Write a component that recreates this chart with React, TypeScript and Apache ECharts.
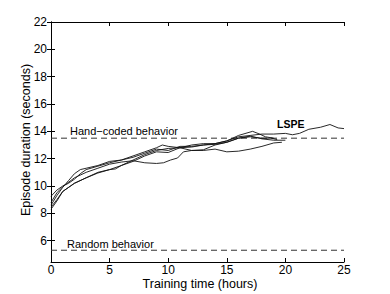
import React, { useEffect, useRef } from "react";
import * as echarts from "echarts";

const xTicks = [0, 5, 10, 15, 20, 25];
const yTicks = [6, 8, 10, 12, 14, 16, 18, 20, 22];
const handCoded = 13.5;
const randomBehavior = 5.3;

const runA: [number, number][] = [
  [0, 9.25], [0.5, 9.7], [1, 10.0], [1.5, 10.2], [2, 10.5], [2.5, 10.9], [3, 11.2], [4, 11.45], [5, 11.7],
  [6, 11.9], [7, 12.2], [8, 12.5], [9, 12.8], [9.5, 13.0], [10, 12.9], [11, 12.8], [12, 13.0],
  [13, 13.1], [14, 13.1], [15, 13.3], [16, 13.6], [17, 13.7], [18, 13.8], [19, 13.8],
  [20, 13.85], [20.6, 13.75], [21.2, 13.85], [22, 14.15], [23, 14.3], [23.8, 14.5], [24.5, 14.25], [25, 14.2],
];
const runB: [number, number][] = [
  [0, 8.6], [0.5, 9.3], [1, 9.9], [1.5, 10.4], [2, 10.9], [2.5, 11.2], [3, 11.3], [4, 11.5], [5, 11.8],
  [6, 11.9], [7, 12.1], [8, 12.4], [9, 12.7], [10, 12.6], [11, 12.9], [12, 12.9], [13, 13.0],
  [14, 13.1], [15, 13.3], [16, 13.7], [17.2, 14.0], [17.8, 13.8], [18.3, 13.6], [19, 13.5],
];
const runC: [number, number][] = [
  [0, 8.45], [0.5, 9.0], [1, 9.6], [1.5, 9.9], [2, 10.2], [3, 10.6], [4, 11.0], [5, 11.2], [6, 11.5],
  [7, 11.9], [8, 12.3], [9, 12.6], [10, 12.75], [11, 12.8], [12, 12.85], [13, 13.0], [14, 13.05],
  [15, 13.2], [16, 13.5], [17, 13.6], [18, 13.5], [18.8, 13.5], [19.3, 13.4],
];
const runD: [number, number][] = [
  [0, 8.3], [0.5, 8.9], [1, 9.6], [1.5, 9.9], [2, 10.2], [3, 10.6], [4, 10.95], [5, 11.2], [5.5, 11.25], [6, 11.5],
  [7, 11.8], [8, 12.2], [9, 12.5], [10, 12.45], [11, 12.8], [12, 12.6], [13, 12.65],
  [14, 13.0], [15, 13.2], [16, 13.5], [17, 13.65], [18, 13.45], [19, 13.35], [20, 13.35],
];
const runE: [number, number][] = [
  [0, 8.8], [0.5, 9.5], [1, 9.95], [2, 10.6], [3, 11.0], [4, 11.3], [5, 11.6], [6, 11.75],
  [7, 11.85], [8, 11.7], [9, 11.65], [9.6, 11.7], [10.2, 11.9], [10.8, 12.05], [11.3, 12.5],
  [12, 12.6], [13, 12.6], [14, 12.7], [15, 12.5], [16, 12.55], [17, 12.7], [18, 12.9],
  [19, 13.15], [19.7, 13.2],
];
const runs = [runA, runB, runC, runD, runE];

const FONT = "'Liberation Sans', Arial, Helvetica, sans-serif";

export default function App() {
  const ref = useRef<HTMLDivElement>(null);
  useEffect(() => {
    const chart = echarts.init(ref.current!, null, { renderer: "svg" });
    const axisLine = { show: true, lineStyle: { color: "#000", width: 1 } };
    const tickStyle = { show: true, inside: true, length: 4, lineStyle: { color: "#000", width: 1 } };
    const dashed = (v: number) => ({
      type: "line",
      data: [[0, v], [25, v]],
      symbol: "none",
      lineStyle: { color: "#333", width: 1, type: [6, 4] },
      silent: true,
    });
    chart.setOption({
      animation: false,
      backgroundColor: "#fff",
      grid: { left: 51, right: 46, top: 22, bottom: 32, containLabel: false, outerBoundsMode: "none" },
      xAxis: [
        {
          type: "value", min: 0, max: 25, interval: 5,
          axisLine, axisTick: { ...tickStyle, customValues: xTicks }, splitLine: { show: false },
          axisLabel: { color: "#000", fontSize: 12, fontFamily: FONT, margin: 2, customValues: xTicks },
        },
        {
          type: "value", min: 0, max: 25, interval: 5, position: "top",
          axisLine, axisTick: { ...tickStyle, customValues: xTicks }, axisLabel: { show: false }, splitLine: { show: false },
        },
      ],
      yAxis: [
        {
          type: "value", min: 4.44, max: 22,
          axisLine, axisTick: { ...tickStyle, customValues: yTicks },
          axisLabel: { color: "#000", fontSize: 12, fontFamily: FONT, margin: 4, customValues: yTicks },
          splitLine: { show: false },
        },
        {
          type: "value", min: 4.44, max: 22, position: "right",
          axisLine, axisTick: { ...tickStyle, customValues: yTicks }, axisLabel: { show: false }, splitLine: { show: false },
        },
      ],
      series: [
        dashed(handCoded),
        dashed(randomBehavior),
        ...runs.map((r) => ({
          type: "line",
          data: r,
          symbol: "none",
          lineStyle: { color: "#111", width: 0.9 },
          silent: true,
        })),
      ],
      graphic: [
        { type: "text", x: 200, y: 284, style: { text: "Training time (hours)", fontSize: 12.5, fontFamily: FONT, fill: "#000", align: "center", verticalAlign: "middle" } },
        { type: "text", x: 26, y: 140, rotation: Math.PI / 2, style: { text: "Episode duration (seconds)", fontSize: 12.5, fontFamily: FONT, fill: "#000", align: "center", verticalAlign: "middle" } },
        { type: "text", x: 70, y: 131, style: { text: "Hand\u2212coded behavior", fontSize: 11, fontFamily: FONT, fill: "#000", verticalAlign: "middle" } },
        { type: "text", x: 67, y: 244, style: { text: "Random behavior", fontSize: 11, fontFamily: FONT, fill: "#000", verticalAlign: "middle" } },
        { type: "text", x: 277, y: 124, style: { text: "LSPE", fontSize: 10.5, fontWeight: "bold", fontFamily: FONT, fill: "#000", verticalAlign: "middle" } },
      ],
    });
    return () => chart.dispose();
  }, []);
  return <div ref={ref} style={{ width: 390, height: 294, position: "absolute", left: 0, top: 0 }} />;
}
